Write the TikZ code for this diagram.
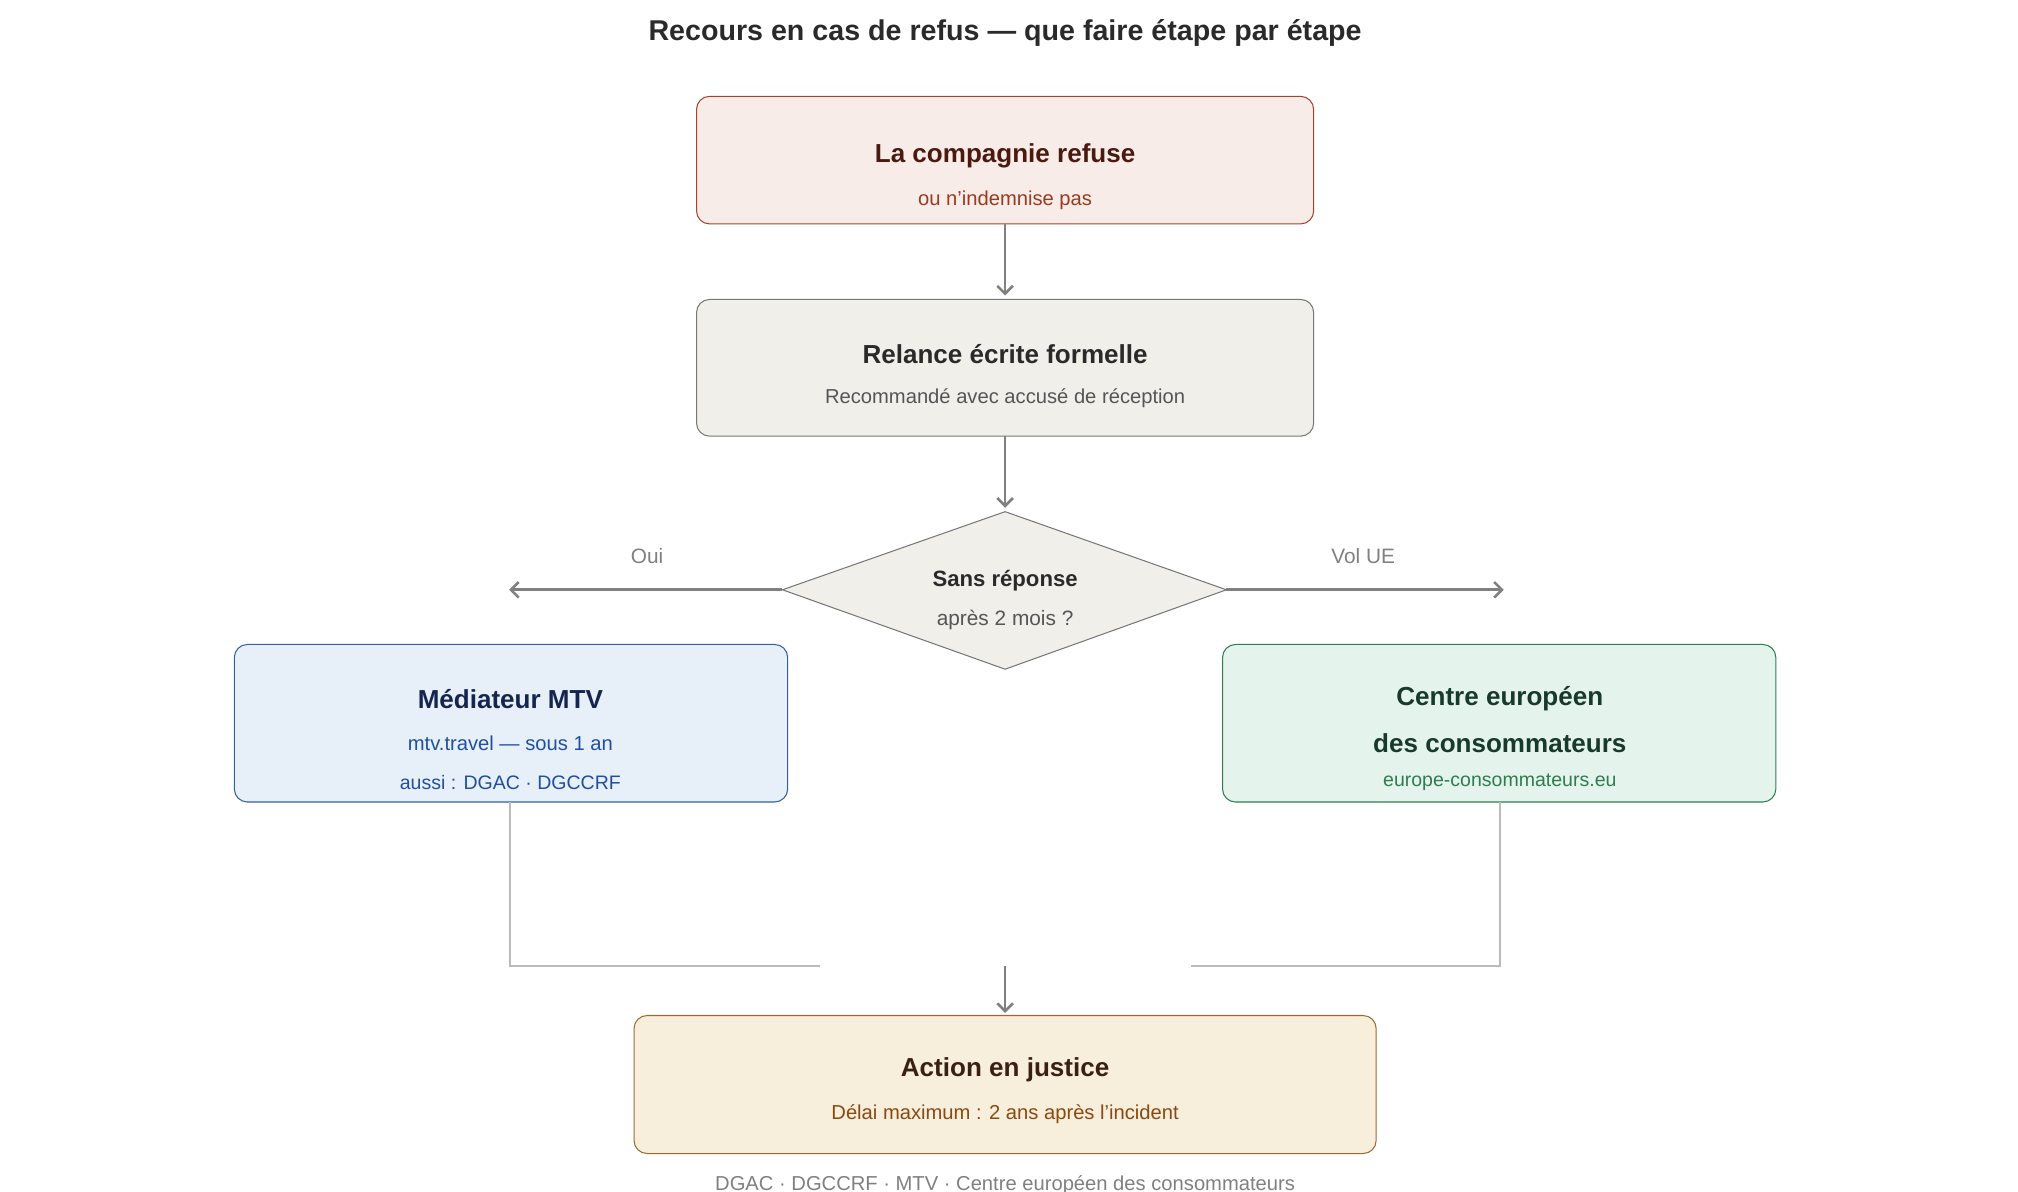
\documentclass[tikz,border=0pt]{standalone}
\usepackage{fontspec}
\setmainfont{Liberation Sans}
\usetikzlibrary{shapes.geometric,arrows.meta}
\definecolor{rf}{HTML}{F7ECE8}\definecolor{rd}{HTML}{A0442C}\definecolor{rt}{HTML}{4A1A10}\definecolor{rs}{HTML}{9A3A20}
\definecolor{gf}{HTML}{F0EFEA}\definecolor{gd}{HTML}{777777}\definecolor{gt}{HTML}{2A2A2A}\definecolor{gs}{HTML}{555555}
\definecolor{bf}{HTML}{E7EFF8}\definecolor{bd}{HTML}{3060A8}\definecolor{bt}{HTML}{15254F}\definecolor{bs}{HTML}{2050A0}
\definecolor{ef}{HTML}{E4F3EC}\definecolor{ed}{HTML}{2E7D55}\definecolor{et}{HTML}{173A2A}\definecolor{es}{HTML}{2E7D4F}
\definecolor{of}{HTML}{F7EEDC}\definecolor{od}{HTML}{9A6A30}\definecolor{ot}{HTML}{3A2010}\definecolor{os}{HTML}{8A4A10}
\definecolor{arr}{HTML}{808080}\definecolor{lin}{HTML}{BBBBBB}
\tikzset{
 box/.style={draw,rounded corners=10pt,line width=0.8pt},
 ttl/.style={font=\bfseries\fontsize{20}{24}\selectfont},
 sub/.style={font=\fontsize{15.5}{18}\selectfont},
 conn/.style={draw=arr,line width=2pt,-{Straight Barb[length=6pt,width=12pt,line width=2pt]}},
 lab/.style={font=\fontsize{16}{19}\selectfont,text=arr},
 feed/.style={draw=lin,line width=1.5pt}
}
\begin{document}
\begin{tikzpicture}[x=1pt,y=-1pt]
\useasboundingbox (0,0) rectangle (1550,915);
\node[font=\bfseries\fontsize{22}{26}\selectfont,text=gt] (title) at (772,25) {Recours en cas de refus — que faire étape par étape};
% box1
\draw[box,fill=rf,draw=rd] (535,74) rectangle (1009,172);
\node (b1) at (772,123) [minimum width=474pt,minimum height=98pt] {};
\node[ttl,text=rt] (b1t) at (772,120) {La compagnie refuse};
\node[sub,text=rs] (b1s) at (772,154) {ou n'indemnise pas};
% box2
\draw[box,fill=gf,draw=gd] (535,230) rectangle (1009,335);
\node (b2) at (772,282.5) [minimum width=474pt,minimum height=105pt] {};
\node[ttl,text=gt] (b2t) at (772,272) {Relance écrite formelle};
\node[sub,text=gs] (b2s) at (772,306) {Recommandé avec accusé de réception};
% diamond
\draw[fill=gf,draw=gd,line width=0.8pt] (601,453) -- (772,393) -- (942,453) -- (772,514) -- cycle;
\coordinate (dl) at (601,453);\coordinate (dr) at (942,453);\coordinate (dt) at (772,393);
\node[font=\bfseries\fontsize{17}{20}\selectfont,text=gt] (dtt) at (772,446) {Sans réponse};
\node[font=\fontsize{16}{19}\selectfont,text=gs] (dts) at (772,476) {après 2 mois ?};
% box3
\draw[box,fill=bf,draw=bd] (180,495) rectangle (605,616);
\node[ttl,text=bt] (b3t) at (392,537) {Médiateur MTV};
\node[sub,text=bs] (b3s) at (392,571) {mtv.travel — sous 1 an};
\node[font=\fontsize{15}{18}\selectfont,text=bs] (b3u) at (392,601) {aussi : DGAC · DGCCRF};
% box4
\draw[box,fill=ef,draw=ed] (939,495) rectangle (1364,616);
\node[ttl,text=et] (b4t) at (1152,537) {Centre européen};
\node[ttl,text=et] (b4u) at (1152,571) {des consommateurs};
\node[font=\fontsize{15}{18}\selectfont,text=es] (b4s) at (1152,601) {europe-consommateurs.eu};
% box5
\draw[box,fill=of,draw=od] (487,780) rectangle (1057,886);
\node[ttl,text=ot] (b5t) at (772,822) {Action en justice};
\node[sub,text=os] (b5s) at (772,856) {Délai maximum : 2 ans après l'incident};
% connectors
\coordinate (a1s) at (772,172);\coordinate (a1e) at (772,227);
\coordinate (a2s) at (772,335);\coordinate (a2e) at (772,390);
\coordinate (ol) at (391,453);\coordinate (or) at (1155,453);
\draw[conn] (a1s) -- (a1e);
\draw[conn] (a2s) -- (a2e);
\draw[conn] (dl) -- (ol);
\draw[conn] (dr) -- (or);
\node[lab] (oui) at (497,427) {Oui};
\node[lab] (vol) at (1047,427) {Vol UE};
\coordinate (m1) at (392,616);\coordinate (m2) at (392,742);\coordinate (m3) at (630,742);
\coordinate (c1) at (1152,616);\coordinate (c2) at (1152,742);\coordinate (c3) at (915,742);
\draw[feed] (m1) -- (m2) -- (m3);
\draw[feed] (c1) -- (c2) -- (c3);
\coordinate (j1) at (772,742);\coordinate (j2) at (772,778);
\draw[conn] (j1) -- (j2);
\node[font=\fontsize{15.5}{18}\selectfont,text=arr] (foot) at (772,910) {DGAC · DGCCRF · MTV · Centre européen des consommateurs};
\end{tikzpicture}
\end{document}
